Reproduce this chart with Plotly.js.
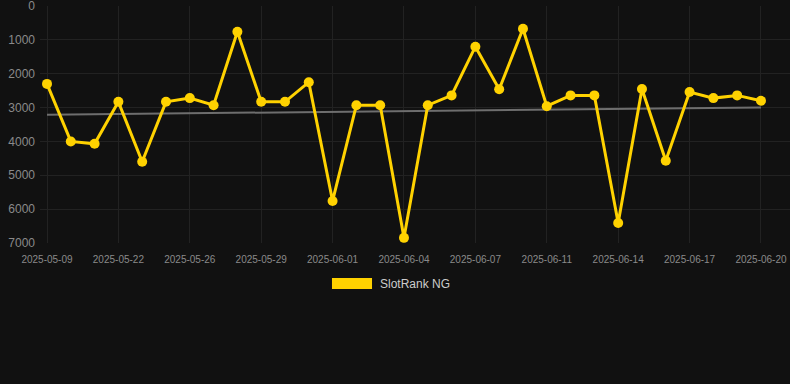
<!DOCTYPE html>
<html>
<head>
<meta charset="utf-8">
<script src="https://cdn.plot.ly/plotly-3.0.1.min.js"></script>
<style>
html,body{margin:0;padding:0;background:#111111;}
#chart{width:790px;height:384px;}
</style>
</head>
<body>
<div id="chart"></div>
<script>
var dates = ["2025-05-09","2025-05-20","2025-05-21","2025-05-22","2025-05-23","2025-05-24",
  "2025-05-26","2025-05-27","2025-05-28","2025-05-29","2025-05-30","2025-05-31",
  "2025-06-01","2025-06-02","2025-06-03","2025-06-04","2025-06-05","2025-06-06",
  "2025-06-07","2025-06-08","2025-06-10","2025-06-11","2025-06-12","2025-06-13",
  "2025-06-14","2025-06-15","2025-06-16","2025-06-17","2025-06-18","2025-06-19","2025-06-20"];
var ranks = [2300,4000,4070,2830,4600,2830,2720,2930,760,2830,2830,2250,
  5760,2930,2930,6850,2930,2640,1200,2460,670,2960,2640,2640,
  6410,2450,4570,2540,2720,2640,2800];
var trendValues = [3210,3000];
var seriesName = "SlotRank NG";
var yTicks = [0,1000,2000,3000,4000,5000,6000,7000];
var xTickIdx = [0,3,6,9,12,15,18,21,24,27,30];

var trendX = [dates[0], dates[dates.length-1]];
var tickVals = xTickIdx.map(function(i){return dates[i];});

var traces = [
  {x: trendX, y: trendValues, type:"scatter", mode:"lines",
   line:{color:"#6e6e6e", width:2}, hoverinfo:"skip", showlegend:false},
  {x: dates, y: ranks, type:"scatter", mode:"lines+markers", name: seriesName,
   line:{color:"#FFD200", width:3}, marker:{color:"#FFD200", size:10}, showlegend:false}
];

var layout = {
  width:790, height:384,
  paper_bgcolor:"#111111", plot_bgcolor:"#111111",
  margin:{l:40, r:0, t:6, b:141},
  showlegend:false,
  xaxis:{type:"category", categoryorder:"array", categoryarray:dates,
    range:[-0.294, 31.22], tickmode:"array", tickvals:tickVals, ticktext:tickVals,
    showgrid:true, gridcolor:"#222222", gridwidth:1, zeroline:false, showline:false,
    ticks:"", ticklabelstandoff:9, ticklabeloverflow:"allow",
    tickfont:{family:"Liberation Sans, Arial, sans-serif", size:10, color:"#8a8a8a"},
    tickangle:0, fixedrange:true},
  yaxis:{range:[7002,-2], tickmode:"array", tickvals:yTicks, ticktext:yTicks.map(String),
    showgrid:true, gridcolor:"#222222", gridwidth:1, zeroline:false, showline:false,
    ticks:"", ticklabelstandoff:4, ticklabeloverflow:"allow",
    tickfont:{family:"Liberation Sans, Arial, sans-serif", size:12, color:"#8a8a8a"}, fixedrange:true},
  shapes:[
    {type:"rect", xref:"paper", yref:"paper", x0:0.3893, x1:0.4427, y0:-0.194, y1:-0.1477,
     fillcolor:"#FFD200", line:{width:0}}
  ],
  annotations:[
    {xref:"paper", yref:"paper", x:0.4507, y:-0.171, xanchor:"left", yanchor:"middle",
     text: seriesName, showarrow:false,
     font:{family:"Liberation Sans, Arial, sans-serif", size:12, color:"#cccccc"}}
  ]
};

Plotly.newPlot("chart", traces, layout, {displayModeBar:false, staticPlot:true});
</script>
</body>
</html>
